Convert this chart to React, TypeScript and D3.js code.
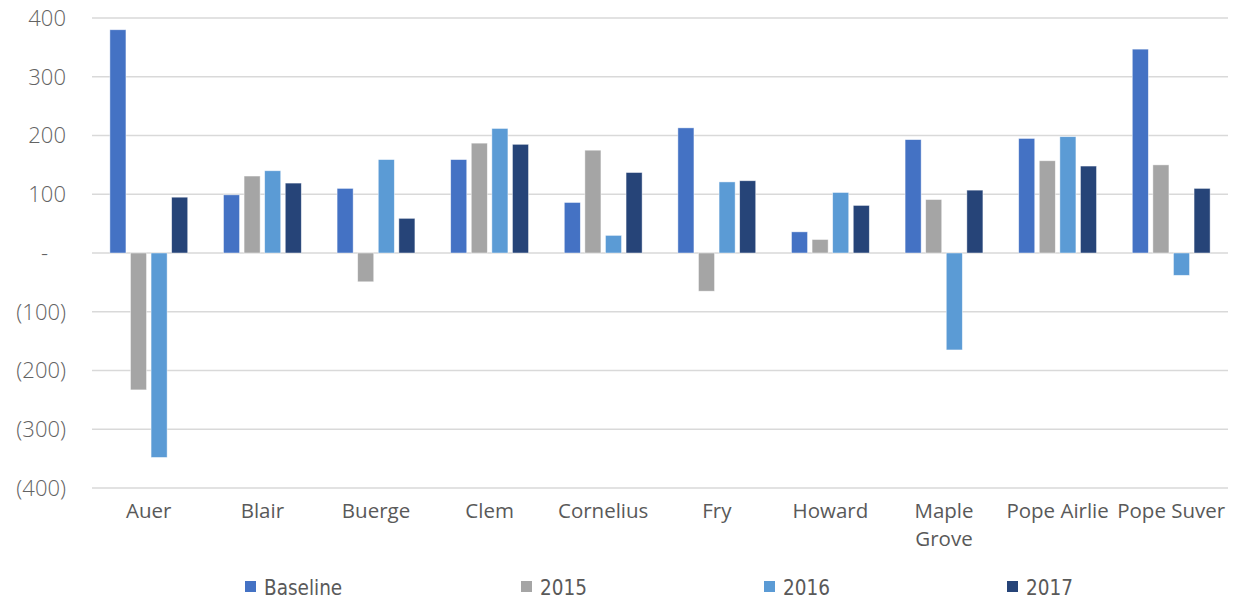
import React from "react";
import * as d3 from "d3";

// chart data
const categories = ["Auer", "Blair", "Buerge", "Clem", "Cornelius", "Fry", "Howard", "Maple Grove", "Pope Airlie", "Pope Suver"];
const seriesNames = ["Baseline", "2015", "2016", "2017"];
const baseline = [380, 99, 110, 159, 86, 213, 36, 193, 195, 347];
const y2015 = [-233, 131, -49, 187, 175, -65, 23, 91, 157, 150];
const y2016 = [-348, 140, 159, 212, 30, 121, 103, -165, 198, -38];
const y2017 = [95, 119, 59, 185, 137, 123, 81, 107, 148, 110];
const yTicks = [400, 300, 200, 100, 0, -100, -200, -300, -400];

const seriesValues = [baseline, y2015, y2016, y2017];
const colors = ["#4472C4", "#A5A5A5", "#5B9BD5", "#264478"];

const width = 1239;
const height = 603;
const margin = { top: 18, right: 11, bottom: 115, left: 92 };

const fmt = (v: number) => (v === 0 ? "-" : v < 0 ? `(${Math.abs(v)})` : `${v}`);

const App = () => {
  const innerW = width - margin.left - margin.right;

  const x0 = d3.scaleBand<string>().domain(categories).range([margin.left, margin.left + innerW]);
  const bw = x0.bandwidth();
  const groupW = bw * 0.725;
  const x1 = d3
    .scaleBand<string>()
    .domain(seriesNames)
    .range([(bw - groupW) / 2, (bw + groupW) / 2])
    .paddingInner(0.22)
    .paddingOuter(0.11);

  const y = d3.scaleLinear().domain([-400, 400]).range([height - margin.bottom, margin.top]);

  const labelFont = "'Open Sans', 'Noto Sans', sans-serif";
  const legendX = [245, 521, 764, 1007];

  return (
    <svg
      width={width}
      height={height}
      style={{ position: "absolute", left: 0, top: 0, background: "#fff" }}
    >
      {/* grid lines */}
      {yTicks.map((t) => (
        <line
          key={"g" + t}
          x1={margin.left}
          x2={margin.left + innerW}
          y1={y(t)}
          y2={y(t)}
          stroke="#d9d9d9"
          strokeWidth={1.5}
        />
      ))}

      {/* y tick labels */}
      {yTicks.map((t) => (
        <text
          key={"t" + t}
          x={t === 0 ? 48 : 66}
          y={y(t)}
          dy="0.36em"
          textAnchor="end"
          fill="#636363"
          fontFamily={labelFont}
          fontWeight={300}
          fontSize={22}
        >
          {fmt(t)}
        </text>
      ))}

      {/* bars */}
      {categories.map((c, i) => (
        <g key={c} transform={`translate(${x0(c)},0)`}>
          {seriesNames.map((s, j) => {
            const v = seriesValues[j][i];
            return (
              <rect
                key={s}
                x={x1(s)}
                width={x1.bandwidth()}
                y={Math.min(y(v), y(0))}
                height={Math.abs(y(v) - y(0))}
                fill={colors[j]}
                stroke="#fff"
                strokeOpacity={0.6}
                strokeWidth={0.75}
              />
            );
          })}
        </g>
      ))}

      {/* category labels */}
      {categories.map((c) => {
        const lines = c === "Maple Grove" ? ["Maple", "Grove"] : [c];
        return (
          <text
            key={"c" + c}
            x={(x0(c) as number) + bw / 2}
            y={518}
            textAnchor="middle"
            fill="#595959"
            fontFamily={labelFont}
            fontSize={20.5}
          >
            {lines.map((l, k) => (
              <tspan key={l} x={(x0(c) as number) + bw / 2} dy={k === 0 ? 0 : 28}>
                {l}
              </tspan>
            ))}
          </text>
        );
      })}

      {/* legend */}
      {seriesNames.map((s, j) => (
        <g key={"l" + s} transform={`translate(${legendX[j]},0)`}>
          <rect x={0} y={581} width={11} height={11} fill={colors[j]} />
          <text
            x={19}
            y={595}
            fill="#595959"
            fontFamily="'DejaVu Sans Condensed', 'Liberation Sans Narrow', 'Roboto', sans-serif"
            fontSize={20.5}
          >
            {s}
          </text>
        </g>
      ))}
    </svg>
  );
};

export default App;
